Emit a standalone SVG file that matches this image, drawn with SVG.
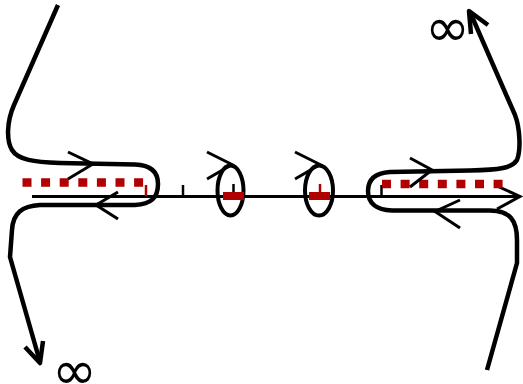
<svg xmlns="http://www.w3.org/2000/svg" width="523" height="384" viewBox="0 0 523 384">
  <style>
    .curve { fill: none; stroke: #000; stroke-width: 4.5; stroke-linecap: butt; stroke-linejoin: round; }
    .axis { fill: none; stroke: #000; stroke-width: 3; }
    .chev { fill: none; stroke: #000; stroke-width: 3; stroke-linecap: butt; }
    .cut { fill: none; stroke: #b00000; stroke-width: 8.5; stroke-dasharray: 9 9.6; }
    .tick { stroke: #000; stroke-width: 2.5; }
    .rtick { stroke: #b00000; stroke-width: 2.5; }
    .seg { fill: #b00000; }
    .loop { fill: none; stroke: #000; stroke-width: 4; }
    .inf { font-family: "DejaVu Sans", sans-serif; font-size: 54px; fill: #000; }
  </style>

  <!-- real axis with arrow -->
  <g id="axis">
    <line class="axis" x1="32" y1="196.5" x2="520" y2="196.5"/>
    <polyline class="chev" points="497,186 520,196.5 497,209"/>
    <line class="tick" x1="183" y1="185" x2="183" y2="196"/>
    <line class="tick" x1="381.5" y1="185" x2="381.5" y2="196"/>
    <line class="rtick" x1="146" y1="185" x2="146" y2="196"/>
  </g>

  <!-- branch cuts -->
  <g id="cut-left">
    <line class="cut" x1="22.5" y1="182.5" x2="146" y2="182.5"/>
  </g>
  <g id="cut-right">
    <line class="cut" x1="382" y1="184" x2="504" y2="184"/>
  </g>

  <!-- small loops around the poles -->
  <g id="loop-1">
    <ellipse class="loop" cx="230.5" cy="190.5" rx="13" ry="25"/>
    <rect class="seg" x="223" y="192" width="21" height="8"/>
    <line class="tick" x1="233.5" y1="184" x2="233.5" y2="192"/>
    <polyline class="chev" points="207,152 232,164.5 207,179"/>
  </g>
  <g id="loop-2">
    <ellipse class="loop" cx="319" cy="190.5" rx="14" ry="25"/>
    <rect class="seg" x="309" y="192" width="21" height="8"/>
    <line class="rtick" x1="320" y1="184" x2="320" y2="192"/>
    <polyline class="chev" points="295,152 320,164.5 295,179"/>
  </g>

  <g id="connectors">
    <!-- left contour: from infinity at top-left, around the left cut, to infinity at bottom-left -->
    <path class="curve" d="M58,5 L14,105 C7,121 6,140 12,150 C18,160 34,162 60,163 L135,164.5 C151,165 158,172 158,184 C158,198 151,204 135,205 L40,205 C22,206 13,213 12,230 L10,257 L40,362"/>
    <polyline class="chev" points="68,152 93,164 68,179"/>
    <polyline class="chev" points="118,192 96,205 118,219"/>
    <polyline class="curve" points="25,347 40,363 43,341"/>

    <!-- right contour: from infinity at bottom-right, around the right cut, to infinity at top-right -->
    <path class="curve" d="M487,370 L517,263 L517,240 C517,220 510,211 490,210.5 L392,210.5 C376,210 368,203 368,191 C368,180 375,173 390,172 L470,170.5 C500,170 512,168 517,160 C521,150 520,128 515,115 L470,12"/>
    <polyline class="chev" points="410,158 432,170 410,187"/>
    <polyline class="chev" points="460,200 435,211.5 460,228"/>
    <polyline class="curve" points="471,34 469,11 488,25"/>
  </g>

  <g id="labels">
    <text class="inf" x="52" y="389">∞</text>
    <text class="inf" x="425" y="46">∞</text>
  </g>
</svg>
